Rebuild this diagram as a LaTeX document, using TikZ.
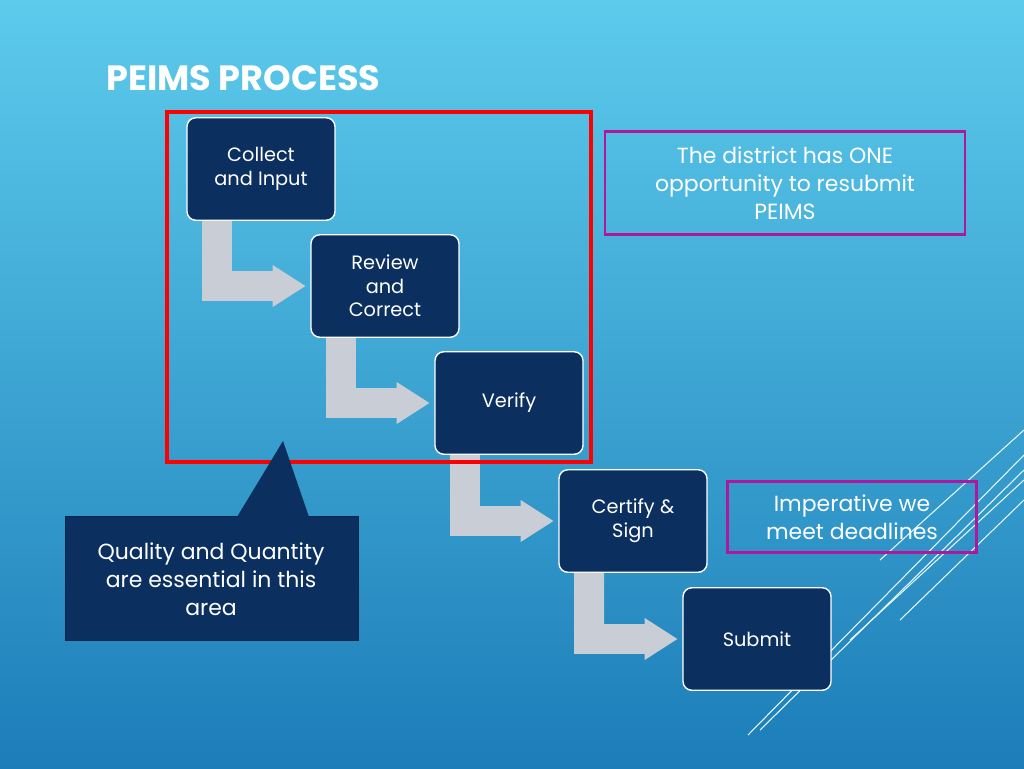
\documentclass[tikz,border=0pt]{standalone}
\usepackage{fontspec}
\setmainfont{Poppins}
\usetikzlibrary{positioning,calc}
\definecolor{navy}{HTML}{0B2F5E}
\definecolor{skytop}{HTML}{5DCBEC}
\definecolor{skybot}{HTML}{1C7DB8}
\definecolor{bentgray}{HTML}{C9CDD6}
\definecolor{magbox}{HTML}{B0179E}
\tikzset{
  stepbox/.style={draw=white, line width=0.8pt, fill=navy, rounded corners=5pt,
    minimum width=2.96cm, minimum height=2.05cm, text=white, align=center,
    font=\fontsize{11}{13.5}\selectfont, inner sep=2pt},
  note/.style={draw=magbox, line width=1.5pt, text=white, align=center,
    font=\fontsize{12.5}{16}\selectfont}
}
\begin{document}
\begin{tikzpicture}[x=0.02cm,y=-0.02cm]
   \shade[top color=skytop, bottom color=skybot] (0,0) rectangle (1024,768);
   \useasboundingbox (0,0) rectangle (1024,768);

   % decorative lines
   \foreach \a/\b in {{(748,735)}/{(1024,455)}, {(760,730)}/{(1024,470)},
                      {(850,640)}/{(1024,480)}, {(880,560)}/{(1024,430)},
                      {(900,620)}/{(1024,500)}}
      \draw[white!85!skytop, line width=0.6pt] \a -- \b;

   \node[anchor=west, text=white, font=\fontsize{20}{24}\selectfont\bfseries] (title) at (100,78) {PEIMS PROCESS};

   % process steps
   \node[stepbox] (collect) at (261,169) {Collect\\and Input};
   \node[stepbox] (review)  at (385,286) {Review\\and\\Correct};
   \node[stepbox] (verify)  at (509,403) {Verify};
   \node[stepbox] (certify) at (633,521) {Certify \&\\Sign};
   \node[stepbox] (submit)  at (757,639) {Submit};

   % bent arrows
   \foreach \a/\b in {collect/review, review/verify, verify/certify, certify/submit}
      \fill[bentgray] let \p1=(\a.south west), \p2=(\b.west) in
         (\x1+9pt,\y1) -- (\x1+26pt,\y1) -- (\x1+26pt,\y2+8.5pt) -- (\x2-21.5pt,\y2+8.5pt)
         -- (\x2-21.5pt,\y2+12pt) -- (\x2-2.8pt,\y2) -- (\x2-21.5pt,\y2-12pt)
         -- (\x2-21.5pt,\y2-8.5pt) -- (\x1+9pt,\y2-8.5pt) -- cycle;

   % highlight frame
   \draw[red, line width=2.2pt] (167,112) rectangle (591,462);

   % notes
   \node[note, minimum width=7.2cm, minimum height=2.06cm] (resubmit) at (785,183)
      {The district has ONE\\opportunity to resubmit\\PEIMS};
   \node[note, minimum width=4.98cm, minimum height=1.42cm] (deadline) at (852,517)
      {Imperative we\\meet deadlines};

   % callout
   \fill[navy, draw=navy!80!black] (65,516) rectangle (358,640);
   \coordinate (tip) at (283,441);
   \fill[navy] (237,517) -- (tip) -- (309,517) -- cycle;
   \node[text=white, align=center, font=\fontsize{12.5}{16}\selectfont] (quality) at (211,579)
      {Quality and Quantity\\are essential in this\\area};
\end{tikzpicture}
\end{document}
